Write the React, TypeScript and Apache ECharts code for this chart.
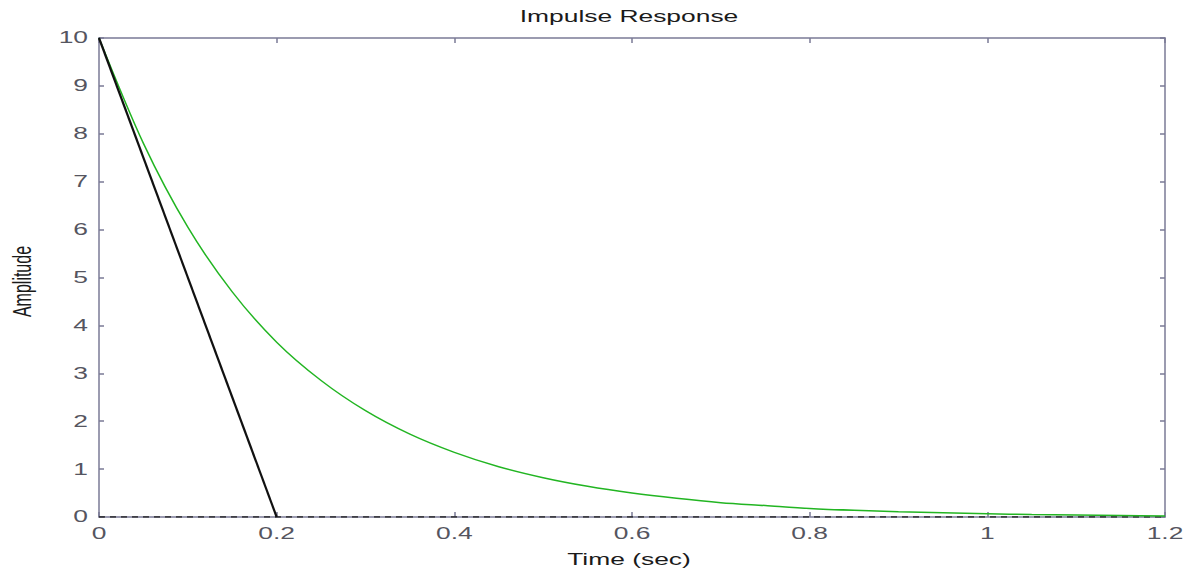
import React, { useEffect, useRef } from "react";
import * as echarts from "echarts";

const timeSec = [0, 0.05, 0.1, 0.15, 0.2, 0.25, 0.3, 0.35, 0.4, 0.45, 0.5, 0.55, 0.6, 0.65, 0.7, 0.75, 0.8, 0.85, 0.9, 0.95, 1.0, 1.05, 1.1, 1.15, 1.2];
const greenAmp = [10, 7.8, 6.05, 4.7, 3.65, 2.85, 2.22, 1.73, 1.35, 1.05, 0.82, 0.64, 0.5, 0.39, 0.3, 0.24, 0.18, 0.14, 0.11, 0.09, 0.07, 0.05, 0.04, 0.03, 0.02];
const blackTime = [0, 0.2];
const blackAmp = [10, 0];
const zeroLineTime = [0, 1.2];
const zeroLineAmp = [0, 0];

const xTickValues = [0, 0.2, 0.4, 0.6, 0.8, 1, 1.2];
const xTickLabels = ["0", "0.2", "0.4", "0.6", "0.8", "1", "1.2"];
const yTickValues = [0, 1, 2, 3, 4, 5, 6, 7, 8, 9, 10];
const yTickLabels = ["0", "1", "2", "3", "4", "5", "6", "7", "8", "9", "10"];

const titleText = "Impulse Response";
const xName = "Time (sec)";
const yName = "Amplitude";

const AXIS_COLOR = "#7a7a96";
const LABEL_COLOR = "#555560";
const TEXT_COLOR = "#1a1a1a";
const FONT = "16px 'Liberation Sans', Arial, sans-serif";
const STRETCH = 1.65;

export default function App() {
  const ref = useRef<HTMLDivElement>(null);
  useEffect(() => {
    if (!ref.current) return;
    const chart = echarts.init(ref.current, undefined, { renderer: "svg" });
    const axisCommon = {
      axisLabel: { show: false },
      axisLine: { show: true, onZero: false, lineStyle: { color: AXIS_COLOR, width: 1.5 } },
      axisTick: { show: true, inside: true, length: 5, lineStyle: { color: AXIS_COLOR, width: 1.5 } },
      splitLine: { show: false },
    };
    chart.setOption({
      animation: false,
      backgroundColor: "#ffffff",
      grid: { left: 99, right: 32, top: 38, bottom: 55 },
      xAxis: [
        { type: "value", min: 0, max: 1.2, interval: 0.2, position: "bottom", ...axisCommon },
        { type: "value", min: 0, max: 1.2, interval: 0.2, position: "top", ...axisCommon },
      ],
      yAxis: [
        { type: "value", min: 0, max: 10, interval: 1, position: "left", ...axisCommon },
        { type: "value", min: 0, max: 10, interval: 1, position: "right", ...axisCommon },
      ],
      series: [
        {
          type: "line",
          name: "zero",
          data: zeroLineTime.map((t, i) => [t, zeroLineAmp[i]]),
          showSymbol: false,
          lineStyle: { color: "#222", width: 1.5, type: [6, 5] },
          z: 1,
        },
        {
          type: "line",
          name: "green",
          data: timeSec.map((t, i) => [t, greenAmp[i]]),
          showSymbol: false,
          smooth: 0.3,
          lineStyle: { color: "#22b522", width: 1.5 },
          z: 2,
        },
        {
          type: "line",
          name: "black",
          data: blackTime.map((t, i) => [t, blackAmp[i]]),
          showSymbol: false,
          lineStyle: { color: "#111", width: 2.2 },
          z: 3,
        },
      ],
    });

    const mkText = (text: string, x: number, y: number, align: string, vAlign: string, fill: string, extra: any = {}) => ({
      type: "text",
      x,
      y,
      scaleX: STRETCH,
      silent: true,
      ...extra,
      style: {
        text,
        x: 0,
        y: 0,
        font: FONT,
        fill,
        textAlign: align,
        textVerticalAlign: vAlign,
        align,
        verticalAlign: vAlign,
      },
    });

    const graphics: any[] = [];
    const x0 = chart.convertToPixel({ xAxisIndex: 0 }, 0) as number;
    const x1 = chart.convertToPixel({ xAxisIndex: 0 }, 1.2) as number;
    const yTop = chart.convertToPixel({ yAxisIndex: 0 }, 10) as number;
    const yBot = chart.convertToPixel({ yAxisIndex: 0 }, 0) as number;
    const cx = (x0 + x1) / 2 - 3;

    xTickValues.forEach((v, i) => {
      const px = chart.convertToPixel({ xAxisIndex: 0 }, v) as number;
      graphics.push(mkText(xTickLabels[i], px, yBot + 17, "center", "middle", LABEL_COLOR));
    });
    yTickValues.forEach((v, i) => {
      const py = chart.convertToPixel({ yAxisIndex: 0 }, v) as number;
      graphics.push(mkText(yTickLabels[i], x0 - 11, py, "right", "middle", LABEL_COLOR));
    });
    graphics.push(mkText(titleText, cx, yTop - 21, "center", "middle", TEXT_COLOR));
    graphics.push(mkText(xName, cx, yBot + 43, "center", "middle", TEXT_COLOR));
    graphics.push({
      type: "text",
      x: 22,
      y: (yTop + yBot) / 2 + 4,
      rotation: Math.PI / 2,
      scaleY: STRETCH,
      silent: true,
      style: {
        text: yName,
        x: 0,
        y: 0,
        font: FONT,
        fill: TEXT_COLOR,
        textAlign: "center",
        textVerticalAlign: "middle",
        align: "center",
        verticalAlign: "middle",
      },
    });

    chart.setOption({ graphic: { elements: graphics } });
    return () => chart.dispose();
  }, []);
  return <div ref={ref} style={{ position: "fixed", left: 0, top: 0, width: 1197, height: 572 }} />;
}
